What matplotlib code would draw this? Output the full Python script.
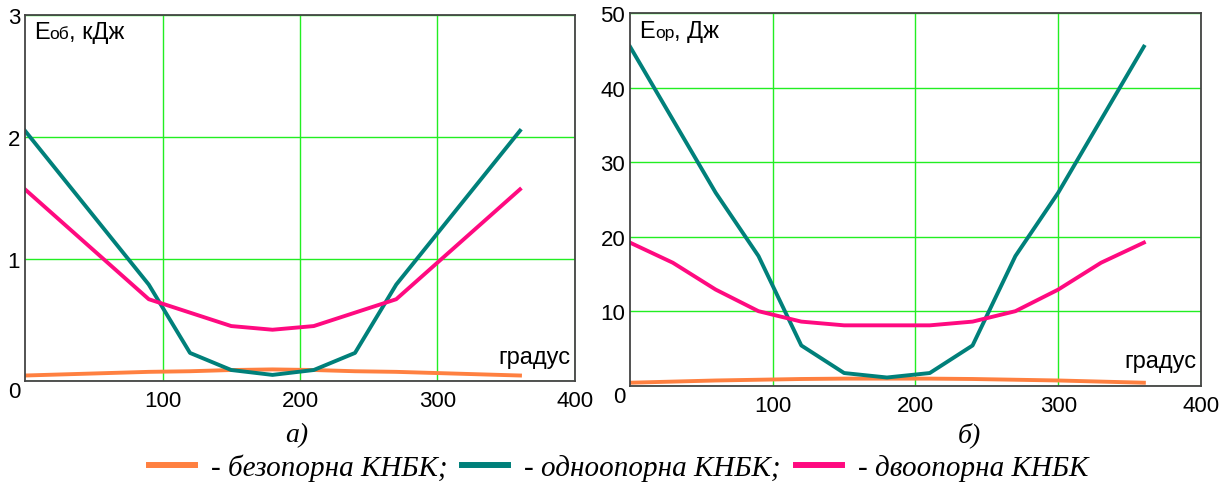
import numpy as np
import matplotlib.pyplot as plt
from matplotlib.lines import Line2D

# Дані: кут повороту, градуси
angles = [0, 30, 60, 90, 120, 150, 180, 210, 240, 270, 300, 330, 360]

# а) Eоб, кДж
bez_a = [0.045, 0.055, 0.065, 0.075, 0.08, 0.09, 0.095, 0.09, 0.08, 0.075, 0.065, 0.055, 0.045]
odno_a = [2.05, 1.63, 1.21, 0.79, 0.23, 0.09, 0.05, 0.09, 0.23, 0.79, 1.21, 1.63, 2.05]
dvo_a = [1.57, 1.27, 0.97, 0.67, 0.56, 0.45, 0.42, 0.45, 0.56, 0.67, 0.97, 1.27, 1.57]

# б) Eор, Дж
bez_b = [0.4, 0.55, 0.7, 0.8, 0.9, 0.95, 0.95, 0.95, 0.9, 0.8, 0.7, 0.55, 0.4]
odno_b = [45.5, 35.7, 25.9, 17.4, 5.4, 1.7, 1.1, 1.7, 5.4, 17.4, 25.9, 35.7, 45.5]
dvo_b = [19.2, 16.5, 12.9, 10.0, 8.6, 8.1, 8.1, 8.1, 8.6, 10.0, 12.9, 16.5, 19.2]

xticks = [100, 200, 300, 400]
yticks_a = [0, 1, 2, 3]
yticks_b = [0, 10, 20, 30, 40, 50]

c_bez = '#ff8040'
c_odno = '#00807a'
c_dvo = '#ff0a80'
c_grid = '#22ee22'
names = ['- безопорна КНБК;', '- одноопорна КНБК;', '- двоопорна КНБК']

plt.rcParams['font.family'] = ['Liberation Sans', 'DejaVu Sans']

fig = plt.figure(figsize=(12.2, 4.89), dpi=100)
ax1 = fig.add_axes([0.0205, 0.2188, 0.4508, 0.749])
ax2 = fig.add_axes([0.5164, 0.2092, 0.468, 0.762])


def setup(ax, yticks, ymax, sub, unit):
    ax.set_xlim(0, 400)
    ax.set_ylim(0, ymax)
    ax.set_xticks(xticks)
    ax.set_yticks(yticks)
    ax.tick_params(length=0, labelsize=16)
    ax.tick_params(axis='x', pad=6.5)
    ax.tick_params(axis='y', pad=3.5)
    ax.get_yticklabels()[0].set_va('top')
    ax.grid(True, color=c_grid, lw=1)
    ax.set_axisbelow(True)
    for s in ax.spines.values():
        s.set_color('#444444')
        s.set_linewidth(1.3)
    # підпис осі Y всередині поля
    t = ax.text(0.016, 0.936, 'E', transform=ax.transAxes, fontsize=17, va='baseline')
    t2 = ax.annotate(sub, xy=(1, 0.936), xycoords=(t, 'axes fraction'),
                     fontsize=12.5, va='baseline')
    ax.annotate(', ' + unit, xy=(1, 0.936), xycoords=(t2, 'axes fraction'),
                fontsize=17, va='baseline')
    ax.text(0.992, 0.05, 'градус', transform=ax.transAxes, fontsize=17,
            ha='right', va='baseline')


for ax, b, o, d in [(ax1, bez_a, odno_a, dvo_a), (ax2, bez_b, odno_b, dvo_b)]:
    ax.plot(angles, b, color=c_bez, lw=2.8)
    ax.plot(angles, o, color=c_odno, lw=2.8)
    ax.plot(angles, d, color=c_dvo, lw=2.8)

setup(ax1, yticks_a, 3, 'об', 'кДж')
setup(ax2, yticks_b, 50, 'ор', 'Дж')

cap = dict(fontsize=20, style='italic', family='Liberation Serif', ha='center', va='center')
fig.text(0.243, 0.11, 'а)', **cap)
fig.text(0.795, 0.11, 'б)', **cap)

handles = [Line2D([], [], color=c, lw=4.3) for c in [c_bez, c_odno, c_dvo]]
fig.legend(handles, names, loc='center', bbox_to_anchor=(0.507, 0.043), ncol=3,
           frameon=False, handlelength=1.58, handletextpad=0.55, columnspacing=0.5,
           borderaxespad=0, borderpad=0,
           prop={'family': 'Liberation Serif', 'style': 'italic', 'size': 21})

fig.savefig('out.png', dpi=100)
